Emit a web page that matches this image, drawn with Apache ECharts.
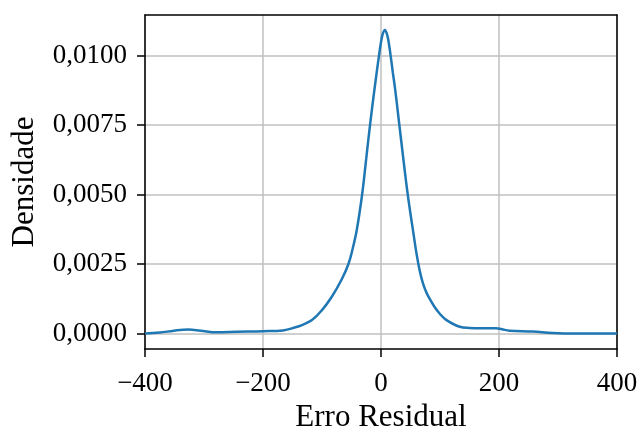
<!DOCTYPE html>
<html>
<head>
<meta charset="utf-8">
<script src="https://cdn.jsdelivr.net/npm/echarts@6/dist/echarts.min.js"></script>
<style>
  html, body { margin: 0; padding: 0; background: #fff; }
  #chart { width: 638px; height: 428px; }
</style>
</head>
<body>
<div id="chart"></div>
<script>
// curva de densidade (KDE) do erro residual
const erroResidual = [-400, -375, -351, -326, -306, -278, -244, -200, -166, -145, -134, -117, -100, -83.4, -66.5, -55.2, -48, -41, -32, -25, -18.6, -11.3, -3.4, 0, 3, 6.5, 10, 13, 16.3, 20, 24.2, 30, 35, 40, 45, 50, 55, 60, 65, 70, 75, 80, 90, 100, 111, 133.5, 150, 170, 195, 205, 218, 257, 291, 330, 400];
const densidade = [0, 0.00003, 0.0001, 0.00014, 0.0001, 0.00004, 0.00006, 0.00008, 0.00011, 0.00022, 0.0003, 0.00048, 0.00084, 0.00132, 0.00195, 0.0025, 0.00305, 0.00373, 0.005, 0.0063, 0.0075, 0.00875, 0.01, 0.01048, 0.01078, 0.01092, 0.01078, 0.01048, 0.01, 0.0094, 0.00875, 0.0077, 0.0068, 0.0059, 0.00505, 0.0043, 0.0036, 0.0029, 0.00232, 0.00188, 0.00157, 0.00134, 0.00098, 0.0007, 0.00048, 0.00024, 0.0002, 0.00019, 0.00019, 0.00015, 0.0001, 0.00007, 0.00002, 0, 0];
const yTicks = [0, 0.0025, 0.005, 0.0075, 0.01];

const fonte = 'Liberation Serif, Times New Roman, serif';
const eixoPreto = { show: true, onZero: false, lineStyle: { color: '#000', width: 1.5 } };
const chart = echarts.init(document.getElementById('chart'), null, { renderer: 'canvas' });

chart.setOption({
  animation: false,
  grid: { left: 145, right: 21, top: 15, bottom: 79, outerBoundsMode: 'none', containLabel: false },
  xAxis: [{
    type: 'value', min: -400, max: 400, interval: 200, position: 'bottom',
    name: 'Erro Residual', nameLocation: 'middle', nameGap: 53,
    nameTextStyle: { fontFamily: fonte, fontSize: 31, color: '#000' },
    axisLine: eixoPreto,
    axisTick: { show: true, inside: false, length: 8, lineStyle: { color: '#000', width: 1.5 } },
    axisLabel: { fontFamily: fonte, fontSize: 27, color: '#000', margin: 21,
      formatter: v => (v < 0 ? '\u2212' + Math.abs(v) : String(v)) },
    splitLine: { show: true, lineStyle: { color: '#c0c0c0', width: 1.5 } }
  }, {
    // moldura superior
    type: 'value', min: -400, max: 400, interval: 200, position: 'top',
    axisLine: eixoPreto, axisTick: { show: false }, axisLabel: { show: false }, splitLine: { show: false }
  }],
  yAxis: [{
    type: 'value', min: -0.00056, max: 0.01146, position: 'left',
    name: 'Densidade', nameLocation: 'middle', nameGap: 105,
    nameTextStyle: { fontFamily: fonte, fontSize: 31, color: '#000' },
    axisLine: eixoPreto,
    axisTick: { show: true, inside: false, length: 8, customValues: yTicks, lineStyle: { color: '#000', width: 1.5 } },
    axisLabel: { fontFamily: fonte, fontSize: 27, color: '#000', margin: 18, customValues: yTicks,
      formatter: v => v.toFixed(4).replace('.', ',') },
    splitLine: { show: true, lineStyle: { color: '#c0c0c0', width: 1.5 } }
  }, {
    // moldura direita
    type: 'value', min: -0.00056, max: 0.01146, position: 'right',
    axisLine: eixoPreto, axisTick: { show: false }, axisLabel: { show: false }, splitLine: { show: false }
  }],
  series: [{
    type: 'line',
    data: erroResidual.map((x, i) => [x, densidade[i]]),
    showSymbol: false,
    smooth: 0.4,
    lineStyle: { color: '#1f77b4', width: 2.5 },
    z: 3
  }]
});
</script>
</body>
</html>
